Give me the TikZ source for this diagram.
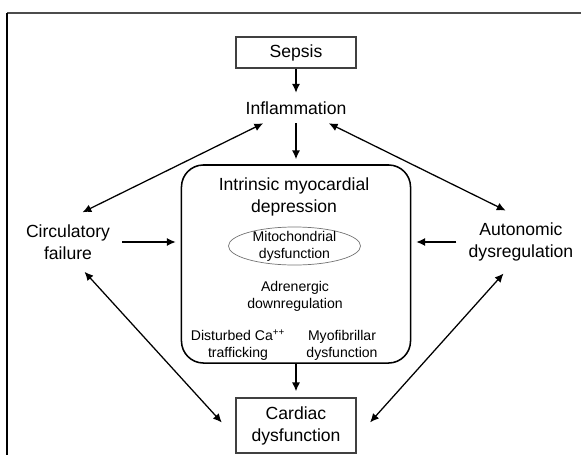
\documentclass[tikz,border=0pt]{standalone}
\usepackage{fontspec}
\setmainfont{Liberation Sans}
\usepackage{tikz}
\usetikzlibrary{shapes,positioning,calc,arrows.meta}

\begin{document}
\begin{tikzpicture}[x=0.025cm,y=-0.025cm,
    bigtext/.style={font=\fontsize{12.5}{15.6}\selectfont, align=center},
    smalltext/.style={font=\fontsize{10}{12}\selectfont, align=center},
    plainbox/.style={draw=black!75, line width=1pt, minimum width=3cm},
    sidetext/.style={bigtext, inner xsep=0.3cm, inner ysep=0.3cm},
    onearrow/.style={line width=0.9pt, -{Latex[length=2.2mm,width=2mm]}},
    twoarrow/.style={line width=0.9pt, {Latex[length=2.2mm,width=2mm]}-{Latex[length=2.2mm,width=2mm]}}]
    \useasboundingbox (0,0) rectangle (581,455);

    % Frame
    \draw[line width=1.2pt, black!70] (581,13) -- (7,13);
    \draw[line width=1.6pt] (7,13) -- (7,455);

    % Top and bottom boxes
    \node[plainbox, bigtext, minimum height=0.775cm] (sepsis) at (296,52.5) {Sepsis};
    \node[bigtext, minimum height=0.75cm, inner sep=0pt] (inflam) at (296,108) {Inflammation};
    \node[plainbox, bigtext, minimum height=1.375cm] (cardiac) at (296,425.5) {Cardiac\\dysfunction};

    % Intrinsic myocardial depression
    \node[draw, line width=1.1pt, rounded corners=0.55cm, minimum width=5.725cm, minimum height=4.95cm] (imd) at (296,264) {};
    \node[bigtext] (imdtitle) at (294,197) {Intrinsic myocardial\\depression};
    \node[draw=black!55, line width=0.5pt, ellipse, minimum width=3.3cm, minimum height=0.95cm] (mito) at (294.5,246) {};
    \node[smalltext] (mitotext) at (mito) {Mitochondrial\\dysfunction};
    \node[smalltext] (adren) at (295,296) {Adrenergic\\downregulation};
    \node[smalltext] (calcium) at (238,345) {Disturbed Ca\textsuperscript{++}\\trafficking};
    \node[smalltext] (myofib) at (342,345) {Myofibrillar\\dysfunction};

    % Side causes
    \node[sidetext] (circ) at (68,242) {Circulatory\\failure};
    \node[sidetext] (auton) at (521,242) {Autonomic\\dysregulation};

    % Arrows
    \draw[onearrow] (sepsis) -- (inflam);
    \draw[onearrow, shorten >=1.25mm] (inflam) -- (imd);
    \draw[onearrow, shorten >=1.5mm] (imd) -- (cardiac);
    \draw[onearrow, shorten >=1.25mm] (circ.east) -- (circ.east -| imd.west);
    \draw[onearrow, shorten >=1.25mm] (auton.west) -- (auton.west -| imd.east);
    \draw[twoarrow] (circ.64) -- (inflam.205);
    \draw[twoarrow] (auton.116) -- (inflam.-25);
    \draw[twoarrow, shorten >=5mm] (circ.-61) -- (cardiac.191);
    \draw[twoarrow, shorten >=5mm] (auton.-119) -- (cardiac.-11);
\end{tikzpicture}
\end{document}
